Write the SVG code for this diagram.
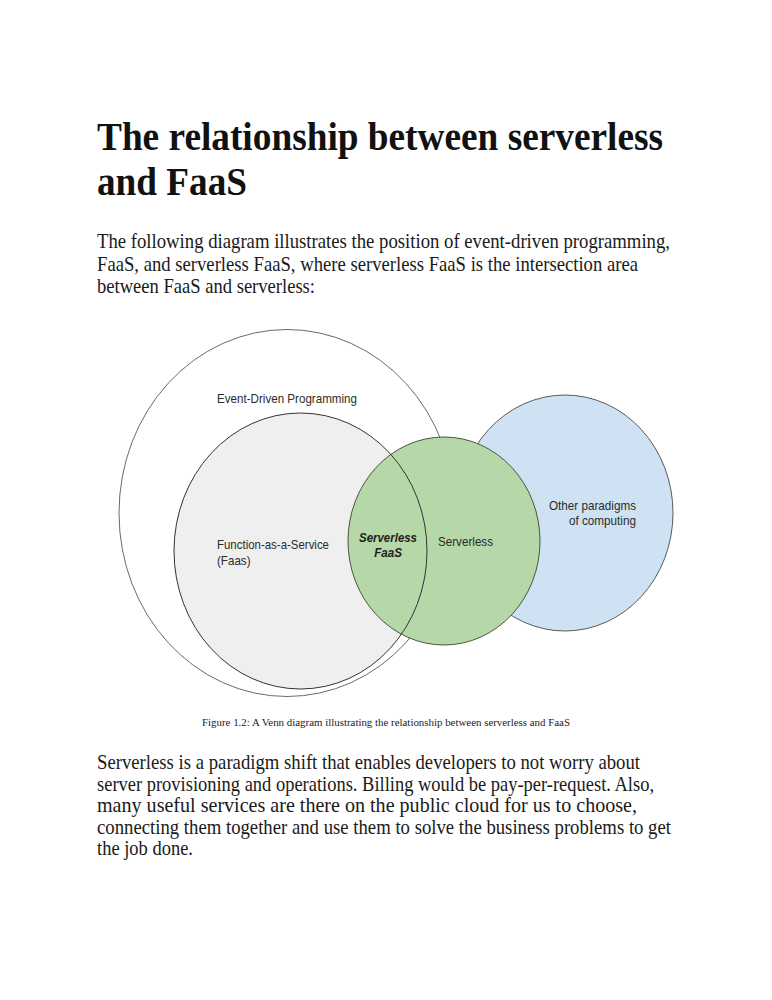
<svg xmlns="http://www.w3.org/2000/svg" width="772" height="1000" viewBox="0 0 772 1000">
<style>
.title{font-family:"Liberation Serif","Times New Roman",serif;font-weight:bold;font-size:36.5px;fill:#111}
.body{font-family:"Liberation Serif","Times New Roman",serif;font-size:18.4px;fill:#1a1a1a}
.body2{font-family:"Liberation Serif","Times New Roman",serif;font-size:18.8px;fill:#1a1a1a}
.cap{font-family:"Liberation Serif","Times New Roman",serif;font-size:10.2px;fill:#222}
.lbl{font-family:"Liberation Sans",Arial,sans-serif;font-size:11.6px;fill:#2b2b2b}
.lblb{font-family:"Liberation Sans",Arial,sans-serif;font-size:11.6px;font-weight:bold;font-style:italic;fill:#1e1e1e}
</style>
<rect width="772" height="1000" fill="#ffffff"/>
<g id="heading">
<text class="title" transform="translate(97,150) scale(1,1.09)" textLength="566" lengthAdjust="spacingAndGlyphs">The relationship between serverless</text>
<text class="title" transform="translate(97,195) scale(1,1.09)" textLength="150" lengthAdjust="spacingAndGlyphs">and FaaS</text>
</g>
<g id="intro">
<text class="body" transform="translate(97,248) scale(1,1.09)" textLength="573" lengthAdjust="spacingAndGlyphs">The following diagram illustrates the position of event-driven programming,</text>
<text class="body" transform="translate(97,271) scale(1,1.09)" textLength="541" lengthAdjust="spacingAndGlyphs">FaaS, and serverless FaaS, where serverless FaaS is the intersection area</text>
<text class="body" transform="translate(97,293) scale(1,1.09)" textLength="218" lengthAdjust="spacingAndGlyphs">between FaaS and serverless:</text>
</g>
<g id="event-driven">
<ellipse cx="287" cy="513" rx="168" ry="183.5" fill="#ffffff" stroke="#6a6a6a" stroke-width="1"/>
<text class="lbl" transform="translate(217,403) scale(1,1.09)" textLength="140" lengthAdjust="spacingAndGlyphs">Event-Driven Programming</text>
</g>
<g id="other-paradigms">
<ellipse cx="565" cy="513" rx="108" ry="118" fill="#cfe2f3" stroke="#5a5a5a" stroke-width="1"/>
<text class="lbl" transform="translate(636,510) scale(1,1.09)" text-anchor="end" textLength="87" lengthAdjust="spacingAndGlyphs">Other paradigms</text>
<text class="lbl" transform="translate(636,525) scale(1,1.09)" text-anchor="end" textLength="67" lengthAdjust="spacingAndGlyphs">of computing</text>
</g>
<g id="faas">
<ellipse cx="300.5" cy="551" rx="126.5" ry="138" fill="#efefef" stroke="none"/>
<text class="lbl" transform="translate(217,549) scale(1,1.09)" textLength="112" lengthAdjust="spacingAndGlyphs">Function-as-a-Service</text>
<text class="lbl" transform="translate(217,565) scale(1,1.09)">(Faas)</text>
</g>
<g id="serverless">
<ellipse cx="444" cy="541" rx="96" ry="104" fill="#b6d7a8" stroke="#4a5540" stroke-width="1"/>
<text class="lbl" transform="translate(438,546) scale(1,1.09)" textLength="55" lengthAdjust="spacingAndGlyphs">Serverless</text>
</g>
<g id="faas-outline">
<ellipse cx="300.5" cy="551" rx="126.5" ry="138" fill="none" stroke="#333333" stroke-width="1"/>
</g>
<g id="serverless-faas">
<text class="lblb" transform="translate(388,542) scale(1,1.09)" text-anchor="middle" textLength="58" lengthAdjust="spacingAndGlyphs">Serverless</text>
<text class="lblb" transform="translate(388,557) scale(1,1.09)" text-anchor="middle">FaaS</text>
</g>
<g id="connectors"></g>
<g id="caption">
<text class="cap" transform="translate(202,726) scale(1,1.09)" textLength="368" lengthAdjust="spacingAndGlyphs">Figure 1.2: A Venn diagram illustrating the relationship between serverless and FaaS</text>
</g>
<g id="closing">
<text class="body2" transform="translate(97,769) scale(1,1.09)" textLength="543" lengthAdjust="spacingAndGlyphs">Serverless is a paradigm shift that enables developers to not worry about</text>
<text class="body2" transform="translate(97,791) scale(1,1.09)" textLength="557" lengthAdjust="spacingAndGlyphs">server provisioning and operations. Billing would be pay-per-request. Also,</text>
<text class="body2" transform="translate(97,812) scale(1,1.09)" textLength="540" lengthAdjust="spacingAndGlyphs">many useful services are there on the public cloud for us to choose,</text>
<text class="body2" transform="translate(97,834) scale(1,1.09)" textLength="574" lengthAdjust="spacingAndGlyphs">connecting them together and use them to solve the business problems to get</text>
<text class="body2" transform="translate(97,855) scale(1,1.09)" textLength="96" lengthAdjust="spacingAndGlyphs">the job done.</text>
</g>
</svg>
